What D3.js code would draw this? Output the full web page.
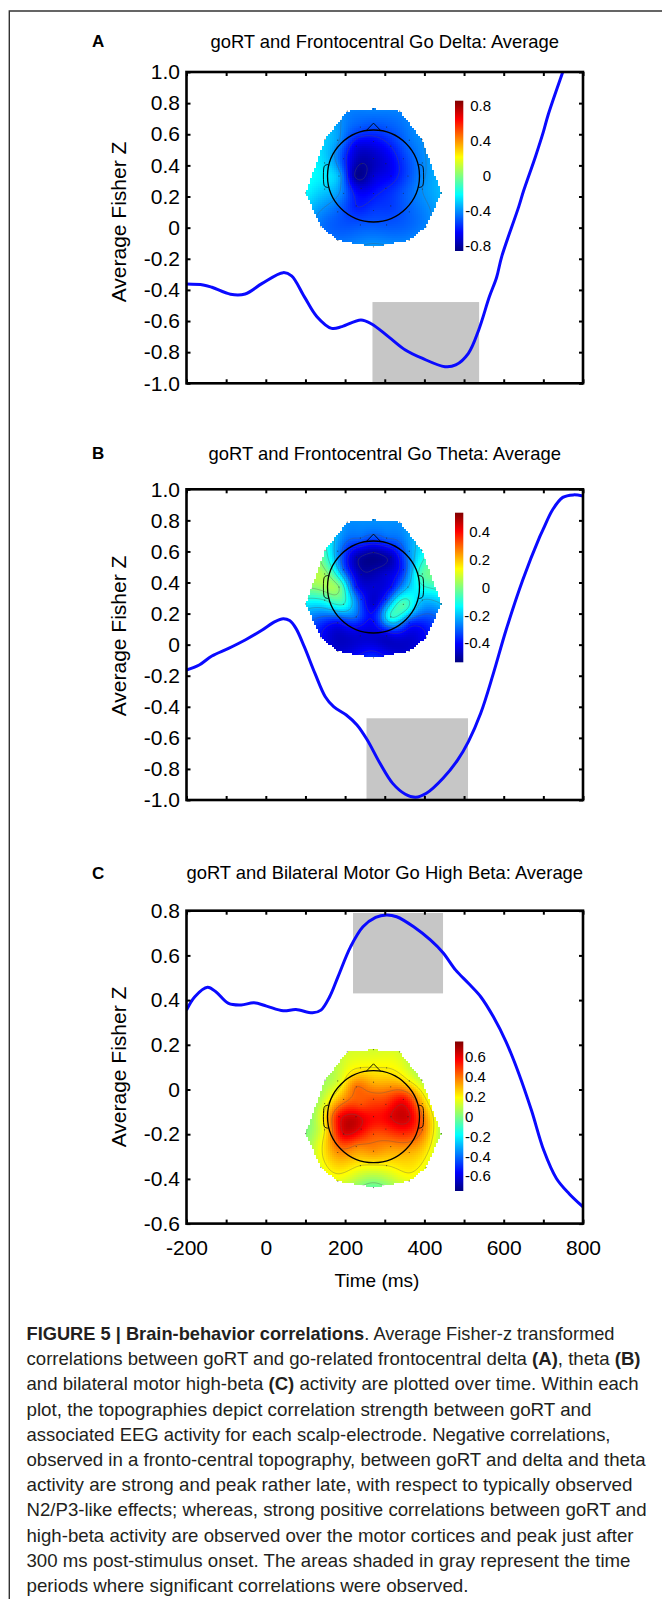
<!DOCTYPE html>
<html>
<head>
<meta charset="utf-8">
<script src="https://cdn.jsdelivr.net/npm/d3@7"></script>
<style>
  body { margin: 0; background: #fff; }
  svg { display: block; }
  text { font-family: "Liberation Sans", Arial, sans-serif; fill: #000; }
  .cap { font-family: "Liberation Sans Narrow", "Liberation Sans", Arial, sans-serif; fill: #231f20; }
</style>
</head>
<body>
<svg id="fig" width="662" height="1599"></svg>
<script>
// ---- curves (time in ms, average Fisher z) ----
const timeA = [-200,-158,-136,-89,-52,-9,44,65,97,129,166,192,240,267,309,352,394,452,479,511,537,564,582,595,638,650,680,700,712,749,760];
const valA  = [-0.362,-0.368,-0.383,-0.428,-0.426,-0.358,-0.289,-0.31,-0.443,-0.572,-0.647,-0.636,-0.593,-0.619,-0.70,-0.786,-0.839,-0.893,-0.882,-0.807,-0.657,-0.443,-0.32,-0.186,0.135,0.235,0.456,0.615,0.724,1.0,1.08];

const timeB = [-200,-168,-136,-94,-52,-9,23,44,60,76,97,124,150,171,203,230,256,288,320,352,378,405,447,484,511,542,574,606,648,691,700,723,749,776,800];
const valB  = [-0.163,-0.131,-0.073,-0.024,0.03,0.094,0.148,0.167,0.155,0.105,-0.013,-0.185,-0.335,-0.399,-0.453,-0.517,-0.614,-0.764,-0.893,-0.963,-0.983,-0.957,-0.86,-0.742,-0.624,-0.442,-0.185,0.094,0.416,0.695,0.745,0.867,0.948,0.964,0.957];

const timeC = [-200,-179,-147,-126,-94,-62,-30,2,44,76,118,139,161,182,214,245,277,304,330,373,415,447,479,511,542,574,606,638,670,701,733,765,800];
const valC  = [0.355,0.415,0.457,0.437,0.385,0.378,0.388,0.373,0.352,0.358,0.343,0.355,0.415,0.504,0.639,0.728,0.770,0.781,0.773,0.728,0.669,0.612,0.534,0.475,0.415,0.325,0.213,0.072,-0.093,-0.272,-0.398,-0.466,-0.525];

// significant windows (gray)
const shadeStart = [269, 254, 220];
const shadeEnd   = [538, 510, 447];
const shadeLow   = [-1.0, -1.0, 0.43];
const shadeHigh  = [-0.478, -0.474, 0.79];

// axis ticks
const timeTicks  = [-200,-100,0,100,200,300,400,500,600,700,800];
const timeLabels = [-200,0,200,400,600,800];
const yTicksAB = [1.0,0.8,0.6,0.4,0.2,0,-0.2,-0.4,-0.6,-0.8,-1.0];
const yTicksC  = [0.8,0.6,0.4,0.2,0,-0.2,-0.4,-0.6];

// electrode locations: [angle from nose (deg, clockwise), radius (head = 1)]
const elecPolar = [
  [0,0],
  [0,0.38],[45,0.38],[90,0.38],[135,0.38],[180,0.38],[225,0.38],[270,0.38],[315,0.38],
  [0,0.75],[30,0.75],[60,0.75],[90,0.75],[120,0.75],[150,0.75],[180,0.75],[210,0.75],[240,0.75],[270,0.75],[300,0.75],[330,0.75],
  [15,1.1],[45,1.1],[75,1.1],[105,1.1],[135,1.1],[165,1.1],[195,1.1],[225,1.1],[255,1.1],[285,1.1],[315,1.1],[345,1.1],
  [0,1.46],[22,1.52],[53,1.32],[104,1.52],[134,1.59],[151,1.6],[180,1.54],[209,1.6],[226,1.59],[256,1.52],[307,1.32],[338,1.52]
];
// correlation at each electrode
const topoA = [-0.72,
  -0.75,-0.7,-0.65,-0.6,-0.62,-0.7,-0.82,-0.8,
  -0.65,-0.6,-0.55,-0.52,-0.5,-0.55,-0.55,-0.6,-0.45,-0.35,-0.55,-0.68,
  -0.5,-0.45,-0.42,-0.4,-0.48,-0.5,-0.5,-0.48,-0.3,-0.28,-0.38,-0.5,
  -0.42,-0.42,-0.4,-0.33,-0.42,-0.42,-0.38,-0.45,-0.45,-0.22,-0.3,-0.42];
const topoB = [-0.45,
  -0.5,-0.45,-0.4,-0.35,-0.45,-0.35,-0.38,-0.48,
  -0.5,-0.48,-0.35,-0.2,-0.05,-0.1,-0.4,-0.3,-0.1,0.0,-0.3,-0.48,
  -0.3,-0.25,-0.05,-0.2,-0.35,-0.45,-0.45,-0.4,-0.1,0.03,-0.25,-0.3,
  -0.25,-0.25,-0.15,-0.2,-0.4,-0.45,-0.35,-0.45,-0.4,-0.15,-0.08,-0.25];
const topoC = [0.55,
  0.45,0.5,0.6,0.5,0.45,0.58,0.62,0.45,
  0.3,0.35,0.55,0.62,0.5,0.35,0.35,0.38,0.6,0.55,0.35,0.4,
  0.2,0.2,0.3,0.4,0.3,0.2,0.2,0.35,0.2,0.15,0.12,0.2,
  0.12,0.12,0.08,0.05,0.15,0.15,-0.05,0.15,0.15,0.0,0.05,0.12];

const cbTicksA = [0.8,0.4,0,-0.4,-0.8];
const cbTicksB = [0.4,0.2,0,-0.2,-0.4];
const cbTicksC = [0.6,0.4,0.2,0,-0.2,-0.4,-0.6];

const titles = ["goRT and Frontocentral Go Delta: Average",
                "goRT and Frontocentral Go Theta: Average",
                "goRT and Bilateral Motor Go High Beta: Average"];

const captionLines = [
  [["b","FIGURE 5 | Brain-behavior correlations"],["n",". Average Fisher-z transformed"]],
  [["n","correlations between goRT and go-related frontocentral delta "],["b","(A)"],["n",", theta "],["b","(B)"]],
  [["n","and bilateral motor high-beta "],["b","(C)"],["n"," activity are plotted over time. Within each"]],
  [["n","plot, the topographies depict correlation strength between goRT and"]],
  [["n","associated EEG activity for each scalp-electrode. Negative correlations,"]],
  [["n","observed in a fronto-central topography, between goRT and delta and theta"]],
  [["n","activity are strong and peak rather late, with respect to typically observed"]],
  [["n","N2/P3-like effects; whereas, strong positive correlations between goRT and"]],
  [["n","high-beta activity are observed over the motor cortices and peak just after"]],
  [["n","300 ms post-stimulus onset. The areas shaded in gray represent the time"]],
  [["n","periods where significant correlations were observed."]]
];
const captionWidth = [588, 614, 612, 565, 584, 619, 606, 620, 607, 604, 442];

// ---- layout ----
const panels = [
  {letter:"A", titleY:41, top:72, bottom:383.3, dom:[-1,1], ticks:yTicksAB, labY:222, xLab:false,
   t:timeA, v:valA, topo:topoA, cy:176, range:0.86, cbTop:100.7, cbBot:251, cbTicks:cbTicksA, cbAnchor:"end", cbX:491},
  {letter:"B", titleY:453.3, top:489.3, bottom:800, dom:[-1,1], ticks:yTicksAB, labY:636, xLab:false,
   t:timeB, v:valB, topo:topoB, cy:587, range:0.54, cbTop:512.7, cbBot:662.3, cbTicks:cbTicksB, cbAnchor:"end", cbX:490},
  {letter:"C", titleY:872.5, top:910.7, bottom:1223.6, dom:[-0.6,0.8], ticks:yTicksC, labY:1067, xLab:true,
   t:timeC, v:valC, topo:topoC, cy:1116.7, range:0.75, cbTop:1041.5, cbBot:1191, cbTicks:cbTicksC, cbAnchor:"start", cbX:465}
];
const left = 186.5, right = 583;
const headX = 373.5, headR = 46;

const svg = d3.select("#fig");
const defs = svg.append("defs");

function jet(t){
  t = Math.max(0, Math.min(1, t));
  const c = x => Math.round(255*Math.max(0, Math.min(1, x)));
  return `rgb(${c(1.5-Math.abs(4*t-3))},${c(1.5-Math.abs(4*t-2))},${c(1.5-Math.abs(4*t-1))})`;
}

// outer frame
svg.append("path").attr("d","M9.3,1599V11H662").attr("fill","none").attr("stroke","#333").attr("stroke-width",1.4);

// electrode xy (head units, y up)
const elec = elecPolar.map(([a,r]) => [r*Math.sin(a*Math.PI/180), r*Math.cos(a*Math.PI/180)]);
const hull = d3.polygonHull(elec);

function green(d){ return d === 0 ? 0 : d*d*(Math.log(d)-1); }
function solve(A, b){
  const n = b.length;
  const M = A.map((row,i) => row.concat([b[i]]));
  for (let k=0;k<n;k++){
    let p = k;
    for (let i=k+1;i<n;i++) if (Math.abs(M[i][k]) > Math.abs(M[p][k])) p = i;
    [M[k],M[p]] = [M[p],M[k]];
    for (let i=k+1;i<n;i++){
      const f = M[i][k]/M[k][k];
      for (let j=k;j<=n;j++) M[i][j] -= f*M[k][j];
    }
  }
  const x = new Array(n).fill(0);
  for (let i=n-1;i>=0;i--){
    let s = M[i][n];
    for (let j=i+1;j<n;j++) s -= M[i][j]*x[j];
    x[i] = s/M[i][i];
  }
  return x;
}

function drawTopo(g, p, idx){
  const G = elec.map(a => elec.map(b => green(Math.hypot(a[0]-b[0], a[1]-b[1]))));
  const w = solve(G, p.topo);
  const interp = (hx,hy) => d3.sum(elec, (e,k) => w[k]*green(Math.hypot(hx-e[0], hy-e[1])));
  const cell = 2, n = 76;
  const x0 = Math.round(headX - n), y0 = Math.round(p.cy - n);
  const grid = new Array(n*n);
  const cells = [];
  for (let j=0;j<n;j++) for (let i=0;i<n;i++){
    const hx = (x0 + cell*i + 1 - headX)/headR, hy = (p.cy - (y0 + cell*j + 1))/headR;
    const val = interp(hx,hy);
    grid[j*n+i] = val;
    if (d3.polygonContains(hull, [hx,hy])) cells.push({i, j, val});
  }
  const col = v => jet((v + p.range)/(2*p.range));
  g.append("g").attr("shape-rendering","crispEdges")
    .selectAll("rect").data(cells).join("rect")
    .attr("x", d => x0 + cell*d.i).attr("y", d => y0 + cell*d.j)
    .attr("width", cell).attr("height", cell)
    .attr("fill", d => col(d.val));

  const clipId = "hull"+idx;
  defs.append("clipPath").attr("id", clipId).append("polygon")
    .attr("points", hull.map(h => [headX + h[0]*headR, p.cy - h[1]*headR].join(",")).join(" "));
  const levels = d3.ticks(-p.range, p.range, 9);
  const contours = d3.contours().size([n,n]).thresholds(levels)(grid);
  const path = d3.geoPath(d3.geoIdentity().scale(cell).translate([x0, y0]));
  g.append("g").attr("clip-path", `url(#${clipId})`)
    .selectAll("path").data(contours).join("path")
    .attr("d", path).attr("fill","none").attr("stroke","#555").attr("stroke-opacity",0.6).attr("stroke-width",0.55);

  // electrodes
  g.append("g").selectAll("circle").data(elec).join("circle")
    .attr("cx", e => headX + e[0]*headR).attr("cy", e => p.cy - e[1]*headR)
    .attr("r", 0.6).attr("fill","#222").attr("opacity",0.7);

  // head, nose, ears
  const hp = (hx,hy) => [headX + hx*headR, p.cy - hy*headR];
  g.append("circle").attr("cx", headX).attr("cy", p.cy).attr("r", headR)
    .attr("fill","none").attr("stroke","#000").attr("stroke-width",1.3);
  g.append("path").attr("d", d3.line()([hp(-0.16,0.985), hp(0,1.15), hp(0.16,0.985)]))
    .attr("fill","none").attr("stroke","#000").attr("stroke-width",0.9);
  [-1,1].forEach(s => {
    g.append("path").attr("d", d3.line().curve(d3.curveBasis)([
        hp(s*0.98,0.25), hp(s*1.06,0.24), hp(s*1.09,0.18), hp(s*1.09,-0.18), hp(s*1.06,-0.24), hp(s*0.98,-0.25)]))
      .attr("fill","none").attr("stroke","#000").attr("stroke-width",0.9);
  });

  // colorbar
  const gid = "jet"+idx;
  const grad = defs.append("linearGradient").attr("id", gid).attr("x1",0).attr("y1",1).attr("x2",0).attr("y2",0);
  d3.range(0, 1.0001, 1/32).forEach(t => grad.append("stop").attr("offset", t).attr("stop-color", jet(t)));
  g.append("rect").attr("x",455).attr("y",p.cbTop).attr("width",8.3).attr("height",p.cbBot-p.cbTop)
    .attr("fill",`url(#${gid})`);
  const cbScale = d3.scaleLinear().domain([-p.range, p.range]).range([p.cbBot, p.cbTop]);
  g.append("g").selectAll("text").data(p.cbTicks).join("text")
    .attr("x", p.cbX).attr("y", d => cbScale(d)).attr("dy","0.36em")
    .attr("text-anchor", p.cbAnchor).style("font-size","15px")
    .text(d => d === 0 ? "0" : d.toFixed(1));
}

panels.forEach((p, idx) => {
  const g = svg.append("g");
  const x = d3.scaleLinear().domain([-200, 800]).range([left, right]);
  const y = d3.scaleLinear().domain(p.dom).range([p.bottom, p.top]);

  g.append("text").attr("x", 92).attr("y", p.titleY).attr("dy","0.36em")
    .style("font-size","17px").style("font-weight","bold").text(p.letter);
  g.append("text").attr("x", (left+right)/2).attr("y", p.titleY).attr("dy","0.36em")
    .attr("text-anchor","middle").style("font-size","18.4px").text(titles[idx]);

  // shaded window
  g.append("rect")
    .attr("x", x(shadeStart[idx])).attr("width", x(shadeEnd[idx]) - x(shadeStart[idx]))
    .attr("y", y(shadeHigh[idx])).attr("height", y(shadeLow[idx]) - y(shadeHigh[idx]))
    .attr("fill","#c6c6c6");

  drawTopo(g, p, idx);

  // curve
  const clipId = "plot"+idx;
  defs.append("clipPath").attr("id", clipId).append("rect")
    .attr("x", left).attr("y", p.top).attr("width", right-left).attr("height", p.bottom-p.top);
  const pts = p.t.map((t,i) => [t, p.v[i]]);
  g.append("path").attr("clip-path", `url(#${clipId})`)
    .attr("d", d3.line().x(d => x(d[0])).y(d => y(d[1])).curve(d3.curveCatmullRom.alpha(0.5))(pts))
    .attr("fill","none").attr("stroke","#0a0aff").attr("stroke-width",3);

  // axes (ticks inside on all four sides)
  const fmt = d => d === 0 ? "0" : d.toFixed(1);
  const yAxis = g.append("g").attr("transform",`translate(${left},0)`)
    .call(d3.axisLeft(y).tickValues(p.ticks).tickFormat(fmt).tickSizeInner(-4).tickSizeOuter(0).tickPadding(6.5));
  const yAxisR = g.append("g").attr("transform",`translate(${right},0)`)
    .call(d3.axisRight(y).tickValues(p.ticks).tickFormat("").tickSizeInner(-4).tickSizeOuter(0));
  const xAxisT = g.append("g").attr("transform",`translate(0,${p.top})`)
    .call(d3.axisTop(x).tickValues(timeTicks).tickFormat("").tickSizeInner(-4).tickSizeOuter(0));
  const xAxisB = g.append("g").attr("transform",`translate(0,${p.bottom})`)
    .call(d3.axisBottom(x).tickValues(timeTicks)
      .tickFormat(d => p.xLab && timeLabels.includes(d) ? d : "").tickSizeInner(-4).tickSizeOuter(0));
  [yAxis, yAxisR, xAxisT, xAxisB].forEach(a => {
    a.select(".domain").remove();
    a.selectAll(".tick line").attr("stroke","#000").attr("stroke-width",2);
    a.selectAll(".tick text").style("font-size","21px").attr("fill","#000")
      .style("font-family",'"Liberation Sans", Arial, sans-serif');
  });
  xAxisB.selectAll(".tick text").attr("y", 23.5).attr("dy","0.36em");

  g.append("rect").attr("x", left).attr("y", p.top).attr("width", right-left).attr("height", p.bottom-p.top)
    .attr("fill","none").attr("stroke","#000").attr("stroke-width",2.6);

  g.append("text").attr("transform",`translate(118,${p.labY}) rotate(-90)`).attr("dy","0.36em")
    .attr("text-anchor","middle").style("font-size","21px").text("Average Fisher Z");

  if (p.xLab) {
    g.append("text").attr("x", 377).attr("y", 1280).attr("dy","0.36em")
      .attr("text-anchor","middle").style("font-size","19px").text("Time (ms)");
  }
});

// caption
const cap = svg.append("g");
captionLines.forEach((parts, i) => {
  const t = cap.append("text").attr("class","cap")
    .attr("x", 26.5).attr("y", 1333.3 + 25.2*i + 6.7)
    .attr("textLength", captionWidth[i]).attr("lengthAdjust","spacingAndGlyphs")
    .style("font-size","18.5px");
  parts.forEach(([k, s]) => t.append("tspan").attr("class","cap")
    .style("font-weight", k === "b" ? "bold" : "normal").text(s));
});
</script>
</body>
</html>
